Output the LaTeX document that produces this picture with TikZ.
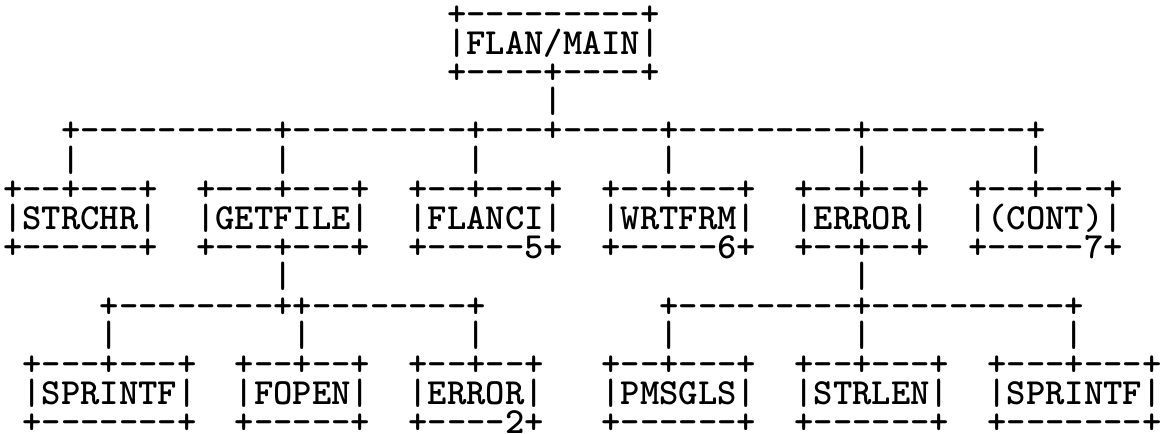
\documentclass[tikz,border=0pt]{standalone}
\usepackage{graphicx}
\newcommand\pitch{19.3pt}
\def\gt#1{\gtloop#1\relax}
\def\gtloop#1{\ifx\relax#1\else\makebox[\pitch][c]{#1}\expandafter\gtloop\fi}
\tikzset{
  txt/.style={anchor=base west, inner sep=0pt, outer sep=0pt,
    font=\ttfamily\bfseries\fontsize{36.8}{36.8}\selectfont}
}
\newcommand\at[4]{\node[txt] (#1) at ({3.35+19.3*#2},{25+29.2*#3}) {\gt{#4}};}
\begin{document}
\begin{tikzpicture}[x=1pt,y=-1pt]
\fill[white] (0,0) rectangle (1163,434);
\useasboundingbox (0,0) rectangle (1163,434);
% root
\at{mainT}{23}{0}{+---------+}
\at{mainM}{23}{1}{|FLAN/MAIN|}
\at{mainB}{23}{2}{+----+----+}
\at{v0}{28}{3}{|}
\at{h1}{3}{4}{+----------+---------+---+-----+---------+--------+}
\at{v1a}{3}{5}{|}
\at{v1b}{14}{5}{|}
\at{v1c}{24}{5}{|}
\at{v1d}{34}{5}{|}
\at{v1e}{44}{5}{|}
\at{v1f}{53}{5}{|}
% level 1
\at{strchrT}{0}{6}{+--+---+}
\at{strchrM}{0}{7}{|STRCHR|}
\at{strchrB}{0}{8}{+------+}
\at{getfileT}{10}{6}{+---+---+}
\at{getfileM}{10}{7}{|GETFILE|}
\at{getfileB}{10}{8}{+---+---+}
\at{flanciT}{21}{6}{+--+---+}
\at{flanciM}{21}{7}{|FLANCI|}
\at{flanciB}{21}{8}{+-----5+}
\at{wrtfrmT}{31}{6}{+--+---+}
\at{wrtfrmM}{31}{7}{|WRTFRM|}
\at{wrtfrmB}{31}{8}{+-----6+}
\at{errorT}{41}{6}{+--+--+}
\at{errorM}{41}{7}{|ERROR|}
\at{errorB}{41}{8}{+--+--+}
\at{contT}{50}{6}{+--+---+}
\at{contM}{50}{7}{|(CONT)|}
\at{contB}{50}{8}{+-----7+}
% connectors to level 2
\at{v2a}{14}{9}{|}
\at{v2b}{44}{9}{|}
\at{h2a}{5}{10}{+--------++--------+}
\at{h2b}{34}{10}{+---------+----------+}
\at{v3a}{5}{11}{|}
\at{v3b}{15}{11}{|}
\at{v3c}{24}{11}{|}
\at{v3d}{34}{11}{|}
\at{v3e}{44}{11}{|}
\at{v3f}{55}{11}{|}
% level 2
\at{sprintfAT}{1}{12}{+---+---+}
\at{sprintfAM}{1}{13}{|SPRINTF|}
\at{sprintfAB}{1}{14}{+-------+}
\at{fopenT}{12}{12}{+--+--+}
\at{fopenM}{12}{13}{|FOPEN|}
\at{fopenB}{12}{14}{+-----+}
\at{errorbT}{21}{12}{+--+--+}
\at{errorbM}{21}{13}{|ERROR|}
\at{errorbB}{21}{14}{+----2+}
\at{pmsglsT}{31}{12}{+--+---+}
\at{pmsglsM}{31}{13}{|PMSGLS|}
\at{pmsglsB}{31}{14}{+------+}
\at{strlenT}{41}{12}{+--+---+}
\at{strlenM}{41}{13}{|STRLEN|}
\at{strlenB}{41}{14}{+------+}
\at{sprintfBT}{51}{12}{+---+---+}
\at{sprintfBM}{51}{13}{|SPRINTF|}
\at{sprintfBB}{51}{14}{+-------+}
\end{tikzpicture}
\end{document}
